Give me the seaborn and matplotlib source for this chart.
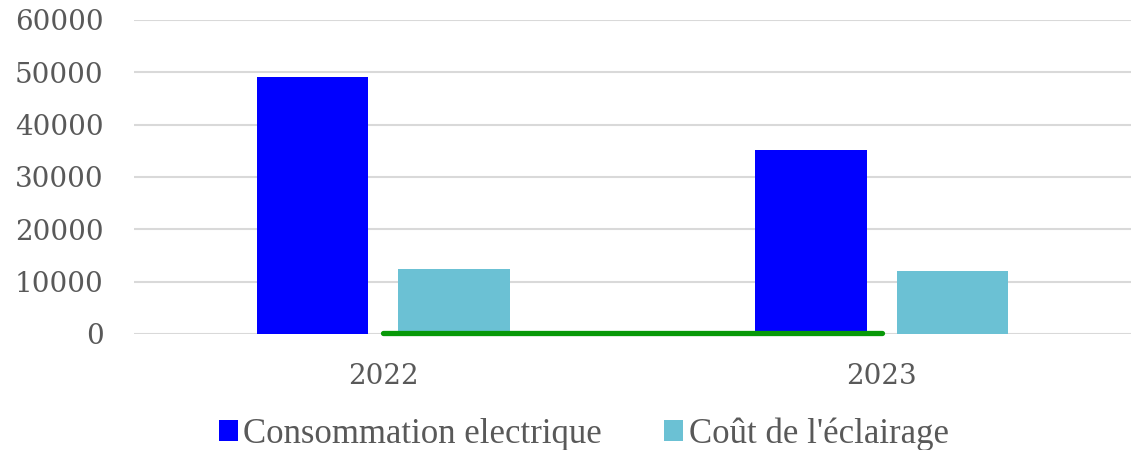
import matplotlib
matplotlib.use("Agg")
import matplotlib.pyplot as plt
import pandas as pd
import seaborn as sns

# données
annees = ["2022", "2023"]
conso_electrique = [49100, 35200]
cout_eclairage = [12400, 12000]
serie_verte = [200, 200]

series = ["Consommation electrique", "Coût de l'éclairage"]
couleurs = ["#0000FF", "#6BC1D4"]

df = pd.DataFrame({
    "Année": annees * 2,
    "Valeur": conso_electrique + cout_eclairage,
    "Série": [series[0]] * len(annees) + [series[1]] * len(annees),
})

sns.set_theme(style="white")
plt.rcParams['font.family'] = ['DejaVu Serif']

fig = plt.figure(figsize=(11.31, 4.5), dpi=100)
ax = fig.add_axes([0.1185, 0.2578, 0.8815, 0.6978])

sns.barplot(data=df, x="Année", y="Valeur", hue="Série", palette=couleurs,
            saturation=1, width=0.568, gap=0.211, ax=ax, edgecolor="none",
            zorder=2)
sns.lineplot(x=list(range(len(annees))), y=serie_verte, color="#089908",
             linewidth=3.8, ax=ax, legend=False, zorder=3,
             solid_capstyle="round", clip_on=False)

ax.set_xlim(-0.5, 1.5)
ax.set_ylim(0, 60000)
ax.set_yticks(range(0, 60001, 10000))
ax.yaxis.grid(True, color="#D9D9D9", linewidth=1.5, zorder=0)
ax.set_axisbelow(True)
for s in ax.spines.values():
    s.set_visible(False)
ax.set_xlabel("")
ax.set_ylabel("")
ax.tick_params(axis="y", length=0, pad=22, labelsize=20, labelcolor="#595959")
ax.tick_params(axis="x", length=0, pad=21, labelsize=20, labelcolor="#595959")

handles, labels = ax.get_legend_handles_labels()
ax.legend(handles, labels, loc="center", bbox_to_anchor=(0.451, -0.32),
          ncol=2, frameon=False, handlelength=0.55, handleheight=0.55,
          handletextpad=0.15, columnspacing=1.8,
          prop={"family": "Liberation Serif", "size": 25},
          labelcolor="#595959", borderpad=0)

fig.savefig("out.png", dpi=100)
